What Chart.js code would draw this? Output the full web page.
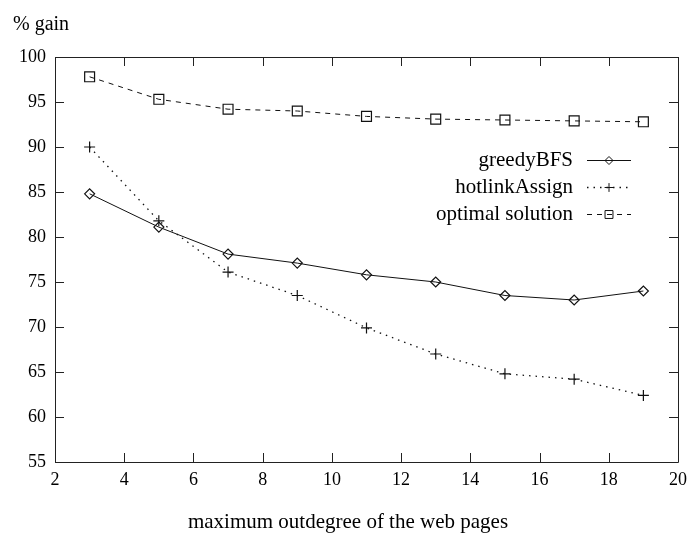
<!DOCTYPE html>
<html>
<head>
<meta charset="utf-8">
<script src="https://cdn.jsdelivr.net/npm/chart.js@4/dist/chart.umd.min.js"></script>
<style>
  html, body { margin: 0; padding: 0; background: #ffffff; }
  canvas { display: block; }
</style>
</head>
<body>
<canvas id="chart" width="694" height="535"></canvas>
<script>
// Maximum outdegree of the web pages (x) and % gain per method (y)
const outdegree       = [3, 5, 7, 9, 11, 13, 15, 17, 19];
const greedyBFS       = [84.8, 81.1, 78.1, 77.1, 75.8, 75.0, 73.5, 73.0, 74.0];
const hotlinkAssign   = [90.0, 81.8, 76.1, 73.5, 69.9, 67.0, 64.8, 64.2, 62.4];
const optimalSolution = [97.8, 95.3, 94.2, 94.0, 93.4, 93.1, 93.0, 92.9, 92.8];

const seriesNames = ['greedyBFS', 'hotlinkAssign', 'optimal solution'];
const xTicks = [2, 4, 6, 8, 10, 12, 14, 16, 18, 20];
const yTicks = [55, 60, 65, 70, 75, 80, 85, 90, 95, 100];
const yLabel = '% gain';
const xLabel = 'maximum outdegree of the web pages';

const SERIF = "'Liberation Serif', 'Times New Roman', 'DejaVu Serif', serif";
const INK = '#111111';

const toPoints = ys => outdegree.map((x, i) => ({ x, y: ys[i] }));

const datasets = [
  {
    label: seriesNames[0], data: toPoints(greedyBFS),
    borderColor: INK, borderWidth: 1, borderDash: [],
    pointStyle: 'rectRot', pointRadius: 5
  },
  {
    label: seriesNames[1], data: toPoints(hotlinkAssign),
    borderColor: INK, borderWidth: 1.3, borderDash: [1.5, 5],
    pointStyle: 'cross', pointRadius: 5.5
  },
  {
    label: seriesNames[2], data: toPoints(optimalSolution),
    borderColor: INK, borderWidth: 1, borderDash: [5, 5],
    pointStyle: 'rect', pointRadius: 7
  }
].map(d => Object.assign(d, {
  showLine: true, fill: false, tension: 0,
  backgroundColor: 'rgba(0,0,0,0)',
  pointBackgroundColor: 'rgba(0,0,0,0)',
  pointBorderColor: INK, pointBorderWidth: 1.2, pointHoverRadius: d.pointRadius
}));

// Box frame with inward tick marks on all four sides
const framePlugin = {
  id: 'frameTicks',
  afterDatasetsDraw(chart) {
    const { ctx, chartArea: a, scales } = chart;
    const len = 9;
    ctx.save();
    ctx.strokeStyle = '#222222';
    ctx.lineWidth = 1;
    ctx.setLineDash([]);
    ctx.beginPath();
    ctx.rect(Math.round(a.left) + 0.5, Math.round(a.top) + 0.5,
             Math.round(a.right - a.left), Math.round(a.bottom - a.top));
    scales.x.ticks.forEach(t => {
      const px = Math.round(scales.x.getPixelForValue(t.value)) + 0.5;
      ctx.moveTo(px, a.bottom); ctx.lineTo(px, a.bottom - len);
      ctx.moveTo(px, a.top);    ctx.lineTo(px, a.top + len);
    });
    scales.y.ticks.forEach(t => {
      const py = Math.round(scales.y.getPixelForValue(t.value)) + 0.5;
      ctx.moveTo(a.left, py);  ctx.lineTo(a.left + len, py);
      ctx.moveTo(a.right, py); ctx.lineTo(a.right - len, py);
    });
    ctx.stroke();
    ctx.restore();
  }
};

// Key inside the plot: right-aligned name, then a line sample with its marker
const keyPlugin = {
  id: 'insideKey',
  afterDatasetsDraw(chart) {
    const { ctx } = chart;
    const textRight = 573, lineFrom = 587, lineTo = 631;
    const rows = [160, 187, 214];
    ctx.save();
    ctx.font = '21px ' + SERIF;
    ctx.textAlign = 'right';
    ctx.textBaseline = 'middle';
    chart.data.datasets.forEach((ds, i) => {
      const y = rows[i];
      ctx.fillStyle = '#000000';
      ctx.fillText(ds.label, textRight, y);
      ctx.strokeStyle = ds.borderColor;
      ctx.lineWidth = ds.borderWidth;
      ctx.setLineDash(ds.borderDash);
      ctx.beginPath();
      ctx.moveTo(lineFrom, y + 0.5);
      ctx.lineTo(lineTo, y + 0.5);
      ctx.stroke();
      ctx.setLineDash([]);
      ctx.lineWidth = 1;
      ctx.strokeStyle = INK;
      ctx.fillStyle = 'rgba(0,0,0,0)';
      Chart.helpers.drawPoint(ctx, {
        pointStyle: ds.pointStyle,
        radius: ds.pointRadius * 0.8,
        rotation: 0,
        borderWidth: 1
      }, (lineFrom + lineTo) / 2, y + 0.5);
    });
    ctx.restore();
  }
};

new Chart(document.getElementById('chart'), {
  type: 'line',
  data: { datasets },
  plugins: [framePlugin, keyPlugin],
  options: {
    responsive: false,
    animation: false,
    devicePixelRatio: 1,
    layout: { padding: { left: 13, right: 11, top: 0, bottom: 0 } },
    plugins: {
      legend: { display: false },
      tooltip: { enabled: false },
      title: {
        display: true, text: yLabel, position: 'top', align: 'start',
        color: '#000000', font: { family: SERIF, size: 20, weight: 'normal' },
        padding: { top: 13, bottom: 20 }
      },
      subtitle: {
        display: true, text: xLabel, position: 'bottom', align: 'center',
        color: '#000000', font: { family: SERIF, size: 21, weight: 'normal' },
        padding: { top: 2, bottom: 0 }
      }
    },
    scales: {
      x: {
        type: 'linear', position: 'bottom',
        min: xTicks[0], max: xTicks[xTicks.length - 1],
        afterBuildTicks: s => { s.ticks = xTicks.map(v => ({ value: v })); },
        afterFit: s => { s.height = 45.8; },
        grid: { display: false, drawTicks: false },
        border: { display: false },
        ticks: {
          padding: 7, color: '#000000', maxRotation: 0, autoSkip: false,
          font: { family: SERIF, size: 18 }
        }
      },
      y: {
        type: 'linear', position: 'left',
        min: yTicks[0], max: yTicks[yTicks.length - 1],
        afterBuildTicks: s => { s.ticks = yTicks.map(v => ({ value: v })); },
        afterFit: s => { s.width = 42; },
        grid: { display: false, drawTicks: false },
        border: { display: false },
        ticks: {
          padding: 9, color: '#000000', autoSkip: false,
          font: { family: SERIF, size: 18 }
        }
      }
    }
  }
});
</script>
</body>
</html>
